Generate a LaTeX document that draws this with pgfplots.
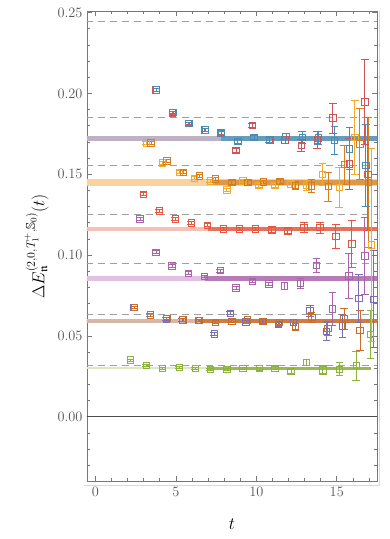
\documentclass[border=0pt]{standalone}
\usepackage{amsmath,amssymb}
\usepackage{pgfplots}
\pgfplotsset{compat=1.18}

\definecolor{cblue}{RGB}{75,140,180}
\definecolor{cgrayband}{RGB}{188,178,195}
\definecolor{credA}{RGB}{205,85,90}
\definecolor{credB}{RGB}{228,88,66}
\definecolor{credband}{RGB}{246,192,182}
\definecolor{corL}{RGB}{242,170,40}
\definecolor{corD}{RGB}{215,125,25}
\definecolor{corband}{RGB}{250,210,160}
\definecolor{cpur}{RGB}{170,100,170}
\definecolor{cpurband}{RGB}{225,192,225}
\definecolor{cbp}{RGB}{125,110,180}
\definecolor{cbr}{RGB}{200,110,45}
\definecolor{cbrband}{RGB}{215,182,168}
\definecolor{cgr}{RGB}{140,180,60}
\definecolor{cgrband}{RGB}{220,232,192}
\definecolor{framegray}{RGB}{120,120,120}
\definecolor{ticktext}{RGB}{85,85,85}

\pgfplotsset{
  ser/.style={only marks, mark=square, mark size=3.2pt, line width=0.7pt,
    mark options={solid},
    error bars/.cd, y dir=both, y explicit,
    error bar style={line width=0.7pt},
    error mark options={rotate=90, mark size=3.8pt, line width=0.7pt},
    /pgfplots/.cd},
  band/.style={no marks, line width=#1},
  lvl/.style={no marks, gray!75, line width=0.9pt, dash pattern=on 7bp off 5bp},
}

\begin{document}
\begin{tikzpicture}
\begin{axis}[
  scale only axis, width=290bp, height=470bp,
  xmin=-0.52, xmax=17.5, ymin=-0.04, ymax=0.2508,
  xtick={0,5,10,15}, minor xtick={1,2,3,4,6,7,8,9,11,12,13,14,16,17},
  ytick={0,0.05,0.10,0.15,0.20,0.25},
  minor ytick={-0.04,-0.03,-0.02,-0.01,0.01,0.02,0.03,0.04,0.06,0.07,0.08,0.09,0.11,0.12,0.13,0.14,0.16,0.17,0.18,0.19,0.21,0.22,0.23,0.24},
  scaled y ticks=false,
  yticklabel style={/pgf/number format/fixed, /pgf/number format/fixed zerofill,
    /pgf/number format/precision=2, xshift=-1bp},
  xticklabel style={yshift=-2bp},
  tick align=inside, major tick length=5bp, minor tick length=3bp,
  tick style={framegray, line width=0.6pt},
  axis line style={framegray, line width=0.9pt},
  ticklabel style={font=\fontsize{15}{17}\selectfont, text=ticktext},
  xlabel style={font=\fontsize{18}{20}\selectfont, yshift=-16bp},
  ylabel style={font=\fontsize{18}{20}\selectfont, yshift=2bp},
  xlabel={$t$},
  ylabel={$\Delta E_{\mathfrak{n}}^{(2,0,T_1^+,\mathbb{S}_0)}(t)$},
  clip=true,
]
% zero line
\addplot[no marks, black!70, line width=0.9pt] coordinates {(-0.6,0) (17.6,0)};
% non-interacting levels
\addplot[lvl] coordinates {(-0.6,0.2444) (17.6,0.2444)};
\addplot[lvl] coordinates {(-0.6,0.1854) (17.6,0.1854)};
\addplot[lvl] coordinates {(-0.6,0.1554) (17.6,0.1554)};
\addplot[lvl] coordinates {(-0.6,0.1250) (17.6,0.1250)};
\addplot[lvl] coordinates {(-0.6,0.0947) (17.6,0.0947)};
\addplot[lvl] coordinates {(-0.6,0.0634) (17.6,0.0634)};
\addplot[lvl] coordinates {(-0.6,0.0319) (17.6,0.0319)};

% fit bands
\addplot[band=5bp, cgrayband] coordinates {(-0.6,0.1724) (7.8,0.1724)};
\addplot[band=5bp, cblue!85] coordinates {(7.8,0.1724) (17.6,0.1724)};
\addplot[band=6.5bp, corband] coordinates {(-0.6,0.1449) (17.6,0.1449)};
\addplot[band=5bp, corD!80] coordinates {(7.3,0.1449) (17.6,0.1449)};
\addplot[band=4bp, credband] coordinates {(-0.6,0.1164) (7.0,0.1164)};
\addplot[band=4bp, credB!85] coordinates {(7.0,0.1164) (17.6,0.1164)};
\addplot[band=5bp, cpurband] coordinates {(-0.6,0.0853) (6.8,0.0853)};
\addplot[band=5bp, cpur!85] coordinates {(6.8,0.0853) (17.6,0.0853)};
\addplot[band=3bp, cbp!60] coordinates {(-0.6,0.0587) (17.6,0.0587)};
\addplot[band=4bp, cbrband] coordinates {(-0.6,0.0593) (6.5,0.0593)};
\addplot[band=4bp, cbr!90] coordinates {(6.5,0.0593) (17.6,0.0593)};
\addplot[band=2.5bp, cgrband] coordinates {(-0.6,0.0300) (7.0,0.0300)};
\addplot[band=3bp, cgr!90] coordinates {(7.0,0.0300) (17.1,0.0300)};

% green
\addplot[cgr, ser] coordinates {
(2.17,0.0351) +- (0,0.0006) (3.16,0.0316) +- (0,0.0006) (4.18,0.0300) +- (0,0.0006)
(5.20,0.0304) +- (0,0.0006) (6.20,0.0297) +- (0,0.0006) (7.14,0.0291) +- (0,0.0007)
(8.18,0.0291) +- (0,0.0007) (9.16,0.0300) +- (0,0.0008) (10.19,0.0297) +- (0,0.0009)
(11.16,0.0300) +- (0,0.0010) (12.15,0.0281) +- (0,0.0012) (13.12,0.0335) +- (0,0.0020)
(14.13,0.0289) +- (0,0.0030) (15.17,0.0293) +- (0,0.0040) (16.20,0.0316) +- (0,0.0090)
(17.10,0.0510) +- (0,0.0150) };
% blue-purple
\addplot[cbp, ser] coordinates {
(2.40,0.0677) +- (0,0.0008) (3.40,0.0630) +- (0,0.0008) (4.40,0.0605) +- (0,0.0008)
(5.40,0.0600) +- (0,0.0008) (6.40,0.0597) +- (0,0.0008) (7.38,0.0512) +- (0,0.0008)
(8.37,0.0640) +- (0,0.0009) (9.36,0.0586) +- (0,0.0010) (10.38,0.0590) +- (0,0.0011)
(11.37,0.0572) +- (0,0.0013) (12.30,0.0582) +- (0,0.0020) (13.33,0.0656) +- (0,0.0035)
(14.36,0.0527) +- (0,0.0055) (15.36,0.0562) +- (0,0.0070) (16.37,0.0731) +- (0,0.0150)
(17.30,0.0727) +- (0,0.0300) };
% brown
\addplot[cbr, ser] coordinates {
(2.44,0.0677) +- (0,0.0008) (3.43,0.0630) +- (0,0.0008) (4.44,0.0607) +- (0,0.0008)
(5.44,0.0599) +- (0,0.0008) (6.45,0.0597) +- (0,0.0008) (7.46,0.0585) +- (0,0.0009)
(8.47,0.0591) +- (0,0.0010) (9.44,0.0599) +- (0,0.0011) (10.42,0.0591) +- (0,0.0012)
(11.43,0.0585) +- (0,0.0014) (12.44,0.0557) +- (0,0.0020) (13.44,0.0613) +- (0,0.0030)
(14.44,0.0547) +- (0,0.0045) (15.44,0.0605) +- (0,0.0065) (16.44,0.0533) +- (0,0.0125) };
% purple
\addplot[cpur, ser] coordinates {
(2.77,0.1224) +- (0,0.0008) (3.76,0.1018) +- (0,0.0008) (4.76,0.0933) +- (0,0.0008)
(5.79,0.0888) +- (0,0.0008) (6.78,0.0869) +- (0,0.0008) (7.75,0.0904) +- (0,0.0009)
(8.74,0.0797) +- (0,0.0010) (9.77,0.0838) +- (0,0.0010) (10.77,0.0822) +- (0,0.0012)
(11.74,0.0809) +- (0,0.0022) (12.75,0.0826) +- (0,0.0030) (13.74,0.0935) +- (0,0.0045)
(14.73,0.0667) +- (0,0.0100) (15.75,0.0871) +- (0,0.0137) (16.74,0.0995) +- (0,0.0240) };
% tomato red
\addplot[credB, ser] coordinates {
(3.00,0.1377) +- (0,0.0008) (3.97,0.1274) +- (0,0.0008) (4.96,0.1224) +- (0,0.0008)
(5.95,0.1199) +- (0,0.0008) (6.97,0.1185) +- (0,0.0009) (7.96,0.1162) +- (0,0.0010)
(8.95,0.1162) +- (0,0.0011) (9.95,0.1162) +- (0,0.0012) (10.96,0.1156) +- (0,0.0014)
(11.96,0.1150) +- (0,0.0016) (12.96,0.1173) +- (0,0.0030) (13.95,0.1170) +- (0,0.0035)
(14.94,0.1115) +- (0,0.0075) (15.93,0.1068) +- (0,0.0145) (16.93,0.1500) +- (0,0.0350) };
% light orange
\addplot[corL, ser] coordinates {
(3.16,0.1693) +- (0,0.0008) (4.17,0.1571) +- (0,0.0008) (5.23,0.1513) +- (0,0.0008)
(6.15,0.1476) +- (0,0.0008) (7.13,0.1460) +- (0,0.0009) (8.16,0.1404) +- (0,0.0010)
(9.16,0.1460) +- (0,0.0011) (10.15,0.1431) +- (0,0.0012) (11.16,0.1431) +- (0,0.0014)
(12.15,0.1439) +- (0,0.0020) (13.12,0.1431) +- (0,0.0030) (14.12,0.1500) +- (0,0.0070)
(15.15,0.1420) +- (0,0.0125) (16.12,0.1728) +- (0,0.0230) (17.15,0.1063) +- (0,0.0600) };
% dark orange
\addplot[corD, ser] coordinates {
(3.45,0.1693) +- (0,0.0008) (4.44,0.1583) +- (0,0.0008) (5.47,0.1513) +- (0,0.0008)
(6.47,0.1489) +- (0,0.0008) (7.46,0.1472) +- (0,0.0009) (8.47,0.1449) +- (0,0.0010)
(9.47,0.1451) +- (0,0.0011) (10.44,0.1453) +- (0,0.0012) (11.47,0.1455) +- (0,0.0014)
(12.44,0.1431) +- (0,0.0022) (13.43,0.1429) +- (0,0.0040) (14.47,0.1424) +- (0,0.0090)
(15.46,0.1560) +- (0,0.0120) (16.43,0.1689) +- (0,0.0220) (16.95,0.1449) +- (0,0.0400) };
% muted red
\addplot[credA, ser] coordinates {
(3.76,0.2023) +- (0,0.0008) (4.78,0.1880) +- (0,0.0008) (5.78,0.1815) +- (0,0.0008)
(6.80,0.1775) +- (0,0.0009) (7.80,0.1757) +- (0,0.0010) (8.74,0.1647) +- (0,0.0012)
(9.75,0.1802) +- (0,0.0013) (10.80,0.1713) +- (0,0.0015) (11.78,0.1713) +- (0,0.0020)
(12.78,0.1678) +- (0,0.0035) (13.78,0.1713) +- (0,0.0050) (14.75,0.1848) +- (0,0.0093)
(15.77,0.1565) +- (0,0.0160) (16.74,0.1947) +- (0,0.0262) };
% blue
\addplot[cblue, ser] coordinates {
(3.80,0.2021) +- (0,0.0008) (4.82,0.1883) +- (0,0.0008) (5.82,0.1813) +- (0,0.0008)
(6.84,0.1774) +- (0,0.0009) (7.84,0.1753) +- (0,0.0010) (8.85,0.1705) +- (0,0.0011)
(9.85,0.1728) +- (0,0.0012) (10.84,0.1713) +- (0,0.0015) (11.84,0.1734) +- (0,0.0020)
(12.85,0.1728) +- (0,0.0035) (13.84,0.1724) +- (0,0.0040) (14.85,0.1709) +- (0,0.0087)
(15.80,0.1658) +- (0,0.0130) (16.80,0.1554) +- (0,0.0255) };
\end{axis}
% light outer frame edge (right and bottom)
\draw[black!15, line width=1bp] ([shift={(-3bp,-4bp)}]current axis.south west) -- ([shift={(2bp,-4bp)}]current axis.south east) -- ([shift={(2bp,0bp)}]current axis.north east);
\path ([shift={(-87bp,-57.7bp)}]current axis.south west) rectangle ++(390bp,539bp);
\end{tikzpicture}
\end{document}
